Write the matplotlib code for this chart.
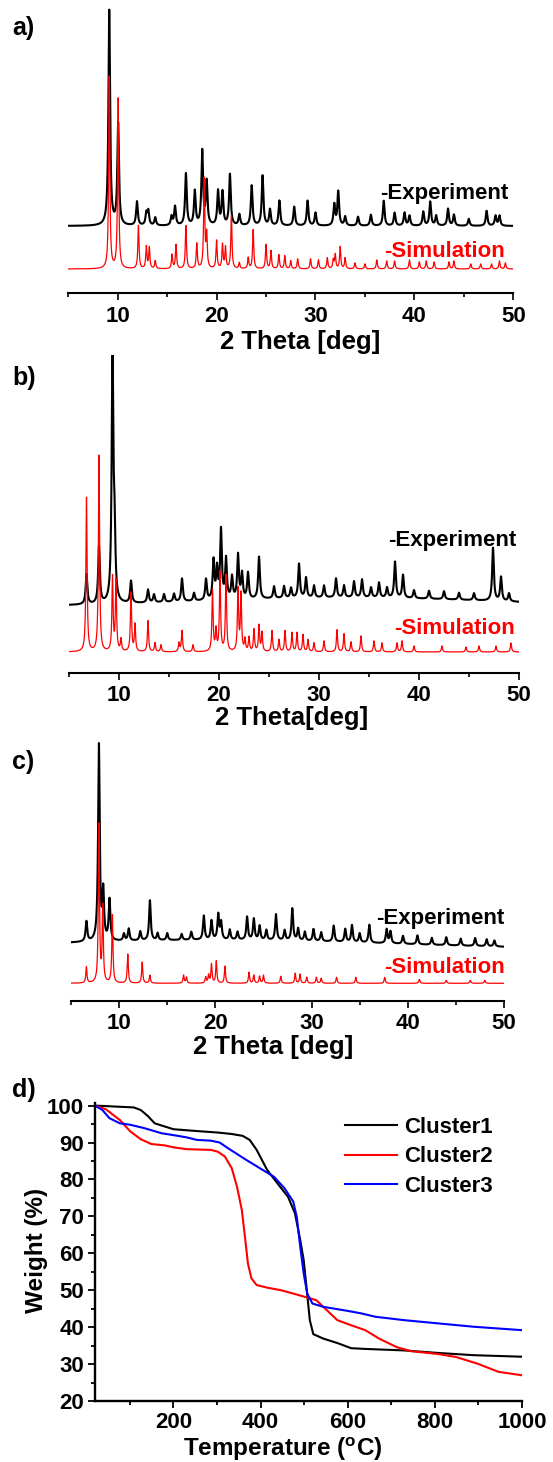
import numpy as np
import matplotlib
matplotlib.use("Agg")
import matplotlib.pyplot as plt
from matplotlib.ticker import MultipleLocator

plt.rcParams['font.family'] = ['Liberation Sans', 'DejaVu Sans']
plt.rcParams['font.weight'] = 'bold'
plt.rcParams['mathtext.fontset'] = 'custom'
plt.rcParams['mathtext.rm'] = 'Liberation Sans:bold'
plt.rcParams['mathtext.bf'] = 'Liberation Sans:bold'

# ---- XRD peak lists (2theta, intensity above baseline, a.u.) ----
a_exp_peaks = [(9.15, 215), (10.05, 101), (11.95, 24), (12.9, 12), (13.1, 14), (13.8, 8),
               (15.45, 9), (15.8, 19), (16.9, 52), (17.8, 34), (18.55, 74), (19.0, 43),
               (20.15, 34), (20.6, 33), (21.35, 51), (22.3, 11), (23.55, 40), (24.65, 50),
               (25.4, 16), (26.35, 25), (27.85, 19), (29.2, 25), (30.0, 13), (31.9, 21),
               (32.3, 34), (33.0, 9), (34.3, 9), (35.6, 11), (36.9, 25), (38.0, 13),
               (39.0, 13), (39.5, 10), (40.9, 14), (41.6, 24), (42.2, 10), (43.4, 17),
               (44.0, 11), (45.5, 7), (47.3, 15), (48.2, 10), (48.6, 10)]
a_sim_peaks = [(9.15, 192), (10.05, 170), (12.1, 43), (12.9, 22), (13.2, 21), (13.8, 8),
               (15.5, 14), (15.9, 24), (16.9, 43), (18.0, 25), (18.75, 89), (19.0, 33),
               (20.0, 28), (20.6, 24), (20.9, 21), (21.5, 53), (22.3, 6), (23.2, 11),
               (23.7, 39), (25.0, 24), (25.5, 18), (26.3, 14), (26.9, 13), (27.5, 8),
               (28.2, 10), (29.5, 10), (30.3, 9), (31.2, 11), (31.8, 9), (32.0, 14),
               (32.5, 22), (33.0, 11), (34.0, 6), (35.0, 5), (36.2, 9), (37.2, 8),
               (38.0, 8), (39.5, 9), (40.5, 7), (41.2, 8), (42.0, 7), (43.5, 7),
               (44.0, 8), (45.7, 5), (46.7, 5), (47.8, 5), (48.6, 8), (49.2, 6)]

b_exp_peaks = [(6.75, 30), (8.0, 57), (9.35, 246), (9.55, 60), (11.2, 22), (12.9, 13),
               (13.5, 8), (14.5, 8), (15.5, 8), (16.3, 23), (17.5, 8), (18.7, 21),
               (19.45, 39), (19.8, 30), (20.2, 69), (20.7, 40), (21.3, 22), (21.9, 44),
               (22.3, 25), (22.9, 26), (24.0, 42), (25.5, 12), (26.5, 12), (27.2, 10),
               (28.0, 34), (28.7, 20), (29.5, 12), (30.5, 12), (31.7, 19), (32.5, 12),
               (33.5, 16), (34.3, 18), (35.2, 10), (36.0, 15), (36.8, 10), (37.6, 36),
               (38.4, 23), (39.5, 8), (41.0, 8), (42.5, 8), (44.0, 7), (45.5, 7),
               (47.4, 53), (48.2, 24), (49.0, 8)]
b_sim_peaks = [(6.75, 154), (8.0, 196), (9.35, 74), (9.7, 70), (10.2, 12), (11.2, 59),
               (11.6, 27), (12.9, 31), (13.6, 9), (14.2, 7), (16.0, 9), (16.3, 21),
               (17.4, 7), (19.35, 61), (19.7, 21), (20.1, 79), (20.7, 76), (21.9, 62),
               (22.2, 57), (22.6, 12), (23.0, 14), (23.5, 22), (24.0, 26), (24.3, 19),
               (25.3, 21), (26.0, 12), (26.6, 21), (27.3, 19), (27.8, 19), (28.4, 17),
               (28.9, 12), (29.5, 9), (30.5, 11), (31.8, 22), (32.5, 18), (33.2, 10),
               (34.2, 16), (35.5, 11), (36.3, 9), (37.8, 9), (38.3, 11), (39.5, 6),
               (42.3, 6), (44.7, 5), (46.0, 6), (47.7, 6), (49.2, 9)]

c_exp_peaks = [(6.6, 20), (7.9, 196), (8.35, 48), (9.0, 41), (10.5, 7), (11.0, 12),
               (12.2, 9), (13.2, 40), (14.0, 7), (15.0, 7), (16.5, 6), (17.5, 8),
               (18.8, 24), (19.6, 19), (20.3, 25), (20.6, 17), (21.5, 10), (22.3, 8),
               (23.3, 23), (24.0, 21), (24.6, 14), (25.3, 10), (26.3, 26), (27.2, 10),
               (28.0, 32), (28.6, 12), (29.3, 9), (30.2, 12), (31.0, 9), (32.3, 16),
               (33.5, 13), (34.2, 17), (35.0, 9), (36.0, 18), (37.8, 14), (38.2, 12),
               (39.5, 8), (41.0, 9), (42.5, 7), (44.0, 8), (45.5, 7), (47.0, 8),
               (48.2, 7), (49.0, 6)]
c_sim_peaks = [(6.6, 16), (7.9, 158), (8.3, 75), (9.3, 68), (10.9, 29), (12.4, 21),
               (13.2, 8), (16.7, 8), (17.0, 6), (19.0, 6), (19.3, 8), (19.6, 19),
               (20.1, 22), (21.0, 17), (23.5, 11), (24.0, 8), (24.6, 7), (25.0, 8),
               (26.8, 7), (28.3, 10), (28.8, 9), (29.5, 6), (30.5, 6), (31.0, 5),
               (32.6, 6), (34.6, 6), (37.6, 6), (41.2, 4), (44.0, 3), (46.5, 3), (48.0, 3)]

# baseline level and broad amorphous hump (centre, sigma, height) for each trace
a_exp_base, a_sim_base = 67.3, 24.3
b_exp_base, b_sim_base = 66.0, 20.7
c_exp_base, c_sim_base = 52.0, 17.7
a_hump = (30.0, 15.0, 0.0)
b_hump = (33.0, 15.0, 9.0)
c_hump = (20.0, 18.0, 9.0)

# ---- TGA curves ----
t1 = [20, 109, 125, 141, 157, 181, 200, 254, 302, 334, 359, 375, 391, 415, 439, 463,
      479, 491, 499, 507, 513, 521, 544, 576, 608, 640, 729, 809, 890, 998]
w1 = [100, 99.5, 98.8, 97.2, 95.2, 94.3, 93.6, 93.1, 92.7, 92.3, 91.8, 90.7, 88.0,
      82.6, 78.9, 75.3, 70.8, 63.6, 58.1, 49.0, 41.9, 38.1, 36.9, 35.7, 34.3, 34.1,
      33.7, 33.0, 32.4, 32.0]
t2 = [20, 45, 77, 101, 125, 149, 181, 200, 230, 286, 302, 318, 334, 346, 357, 365,
      371, 379, 391, 415, 447, 487, 528, 552, 576, 608, 640, 672, 712, 745, 809, 849,
      898, 946, 998]
w2 = [100, 99.0, 96.1, 93.0, 90.9, 89.6, 89.2, 88.7, 88.2, 88.0, 87.5, 86.2, 83.0,
      78.0, 71.7, 63.6, 57.2, 53.2, 51.4, 50.7, 50.0, 48.7, 47.3, 44.6, 41.9, 40.5,
      39.2, 36.9, 34.6, 33.5, 32.7, 31.9, 30.1, 27.9, 27.0]
t3 = [20, 37, 53, 77, 101, 133, 173, 200, 230, 254, 286, 306, 326, 367, 399, 431, 455,
      475, 483, 491, 499, 507, 519, 544, 600, 632, 664, 729, 809, 890, 998]
w3 = [100, 98.8, 96.6, 95.2, 94.8, 93.9, 92.5, 92.0, 91.4, 90.7, 90.5, 90.0, 88.4,
      85.3, 83.0, 80.7, 77.6, 74.0, 69.9, 61.8, 54.5, 49.1, 46.4, 45.5, 44.4, 43.7,
      42.8, 41.9, 41.0, 40.1, 39.2]
tga_labels = ['Cluster1', 'Cluster2', 'Cluster3']
tga_colors = ['black', '#ff0000', '#0000ff']

W, H = 553, 1462
fig = plt.figure(figsize=(W / 100, H / 100), dpi=100)
two_theta = np.linspace(5, 50, 4501)


def px_axes(left, top, right, bottom):
    return fig.add_axes([left / W, 1 - bottom / H, (right - left) / W, (bottom - top) / H])


def pattern(peaks, base, hump, width):
    y = np.full_like(two_theta, base)
    c, s, h = hump
    y += h * np.exp(-(two_theta - c) ** 2 / (2 * s ** 2))
    for pos, inten in peaks:
        y += inten / (1 + ((two_theta - pos) / width) ** 2)
    return y


def xrd_panel(box, exp_peaks, sim_peaks, exp_base, sim_base, hump, xlabel, label_xy):
    left, top, right, bottom = box
    ax = px_axes(left, top, right, bottom)
    ax.plot(two_theta, pattern(exp_peaks, exp_base, hump, 0.1), color='black', lw=1.5)
    ax.plot(two_theta, pattern(sim_peaks, sim_base, (0, 1, 0), 0.07), color='#ff0000', lw=0.9)
    ax.set_xlim(5, 50)
    ax.set_ylim(0, bottom - top)
    for s in ['left', 'right', 'top']:
        ax.spines[s].set_visible(False)
    ax.spines['bottom'].set_linewidth(1.5)
    ax.set_yticks([])
    ax.xaxis.set_major_locator(MultipleLocator(10))
    ax.xaxis.set_minor_locator(MultipleLocator(5))
    ax.tick_params(axis='x', which='major', direction='out', length=4.8, width=1.2,
                   labelsize=16, pad=4)
    ax.tick_params(axis='x', which='minor', direction='out', length=3, width=1.2)
    ax.set_xlabel(xlabel, fontsize=18.5, fontweight='bold')
    lx, ly = label_xy
    ax.xaxis.set_label_coords((lx - left) / (right - left), -(ly - bottom) / (bottom - top))
    ax.xaxis.label.set_verticalalignment('center')
    return ax


def fig_text(x, y, s, **kw):
    fig.text(x / W, 1 - y / H, s, fontweight='bold', **kw)


xrd_panel((68.2, 5, 513.3, 293.3), a_exp_peaks, a_sim_peaks, a_exp_base, a_sim_base,
          a_hump, '2 Theta [deg]', (300, 342))
xrd_panel((69, 355, 519, 672.7), b_exp_peaks, b_sim_peaks, b_exp_base, b_sim_base,
          b_hump, '2 Theta[deg]', (291.7, 718.5))
xrd_panel((71, 742, 504, 1001), c_exp_peaks, c_sim_peaks, c_exp_base, c_sim_base,
          c_hump, '2 Theta [deg]', (273.3, 1047))

fig_text(508, 199, '-Experiment', fontsize=16, ha='right', va='baseline', color='black')
fig_text(505, 256.7, '-Simulation', fontsize=16, ha='right', va='baseline', color='#ff0000')
fig_text(516, 545.7, '-Experiment', fontsize=16, ha='right', va='baseline', color='black')
fig_text(515, 634, '-Simulation', fontsize=16, ha='right', va='baseline', color='#ff0000')
fig_text(504, 924, '-Experiment', fontsize=16, ha='right', va='baseline', color='black')
fig_text(505, 972.7, '-Simulation', fontsize=16, ha='right', va='baseline', color='#ff0000')

for lab, yy in [('a)', 28), ('b)', 378), ('c)', 762), ('d)', 1090)]:
    fig_text(12, yy, lab, fontsize=18, ha='left', va='center')

# ---- TGA panel ----
left, top, right, bottom = 95, 1103, 522, 1401
axd = px_axes(left, top, right, bottom)
for t, w, lab, col in zip([t1, t2, t3], [w1, w2, w3], tga_labels, tga_colors):
    axd.plot(t, w, color=col, lw=1.5, label=lab)
axd.set_xlim(20, 1000)
axd.set_ylim(20, 100.7)
for s in ['right', 'top']:
    axd.spines[s].set_visible(False)
for s in ['left', 'bottom']:
    axd.spines[s].set_linewidth(1.7)
axd.xaxis.set_major_locator(MultipleLocator(200))
axd.xaxis.set_minor_locator(MultipleLocator(100))
axd.yaxis.set_major_locator(MultipleLocator(10))
axd.yaxis.set_minor_locator(MultipleLocator(5))
axd.tick_params(which='major', direction='out', length=4.8, width=1.3, labelsize=16, pad=3)
axd.tick_params(which='minor', direction='out', length=3, width=1.3)
axd.set_xlabel(r'Temperature ($^{\mathbf{o}}$C)', fontsize=17.5, fontweight='bold')
axd.xaxis.set_label_coords((283 - left) / (right - left), -(1449 - bottom) / (bottom - top))
axd.xaxis.label.set_verticalalignment('center')
axd.set_ylabel('Weight (%)', fontsize=17.5, fontweight='bold')
axd.yaxis.set_label_coords(-(left - 37) / (right - left), (bottom - 1250) / (bottom - top))
axd.yaxis.label.set_verticalalignment('center')
axd.legend(loc='upper left', bbox_to_anchor=(345 / W, 1 - 1117 / H),
           bbox_transform=fig.transFigure, frameon=False, fontsize=16,
           handlelength=2.35, handletextpad=0.3, labelspacing=0.38,
           borderpad=0, borderaxespad=0)

fig.savefig('out.png', dpi=100)
